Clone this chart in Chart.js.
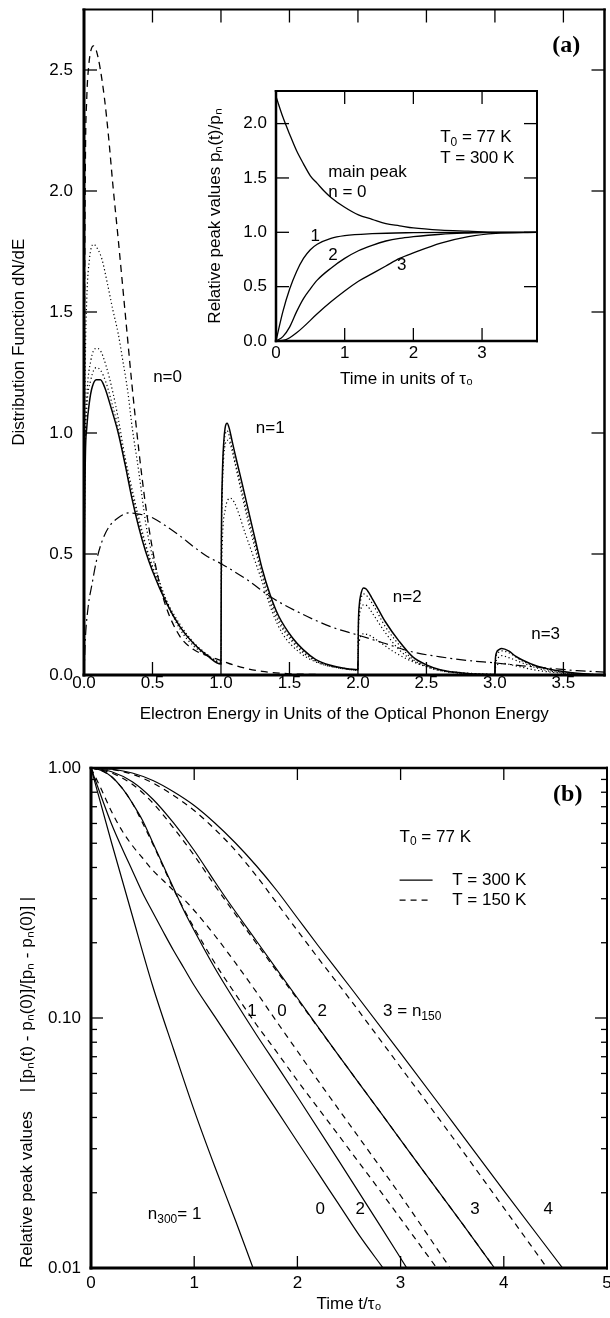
<!DOCTYPE html>
<html><head><meta charset="utf-8">
<script src="https://cdn.jsdelivr.net/npm/chart.js@4.4.1/dist/chart.umd.min.js"></script>
<style>
html,body{margin:0;padding:0;background:#fff;}
body{width:610px;height:1318px;position:relative;overflow:hidden;}
canvas{position:absolute;display:block;}
</style></head><body>
<canvas id="ca" width="610" height="725" style="left:0;top:0"></canvas>
<canvas id="ci" width="345" height="310" style="left:200px;top:85px"></canvas>
<canvas id="cb" width="610" height="593" style="left:0;top:725px"></canvas>
<script>
// ---------- Panel (a): distribution function ----------
const aXTicks = [0,0.5,1,1.5,2,2.5,3,3.5];
const aXLabels = ['0.0','0.5','1.0','1.5','2.0','2.5','3.0','3.5'];
const aYTicks = [0,0.5,1,1.5,2,2.5];
const aYLabels = ['0.0','0.5','1.0','1.5','2.0','2.5'];

const solidX = [0,0.003,0.01,0.02,0.04,0.06,0.09,0.12,0.15,0.2,0.25,0.3,0.35,0.4,0.45,0.5,0.6,0.7,0.8,0.9,1.0,
 1.003,1.01,1.02,1.03,1.045,1.06,1.08,1.1,1.155,1.2,1.25,1.3,1.36,1.42,1.52,1.6,1.69,1.8,1.9,2.0,
 2.003,2.01,2.02,2.04,2.06,2.1,2.15,2.2,2.3,2.4,2.5,2.6,2.7,2.8,2.9,3.0,
 3.003,3.01,3.03,3.05,3.1,3.15,3.2,3.3,3.4,3.5,3.6,3.7,3.8];
const solidY = [0,0.5,0.9,1.02,1.13,1.19,1.22,1.22,1.19,1.1,1.0,0.87,0.73,0.61,0.51,0.43,0.3,0.2,0.13,0.08,0.045,
 0.55,0.82,0.96,1.02,1.04,1.02,0.97,0.92,0.79,0.68,0.56,0.44,0.33,0.245,0.155,0.105,0.065,0.04,0.028,0.022,
 0.2,0.29,0.33,0.36,0.355,0.32,0.27,0.22,0.14,0.075,0.042,0.022,0.012,0.006,0.003,0.002,
 0.06,0.09,0.105,0.11,0.1,0.078,0.062,0.038,0.024,0.014,0.007,0.003,0.001];

const dashX = [0,0.003,0.01,0.02,0.035,0.05,0.07,0.09,0.12,0.15,0.18,0.21,0.25,0.3,0.35,0.4,0.45,0.5,0.55,0.6,0.7,0.8,0.9,1.0,1.1,1.2,1.3,1.4,1.5,1.7,2.0];
const dashY = [0,1.2,2.1,2.38,2.52,2.58,2.6,2.58,2.5,2.38,2.22,2.03,1.8,1.5,1.2,0.93,0.7,0.52,0.38,0.28,0.16,0.105,0.08,0.06,0.04,0.025,0.015,0.009,0.005,0.002,0];

const dotAX = [0,0.003,0.01,0.02,0.04,0.07,0.1,0.13,0.17,0.21,0.25,0.28,0.32,0.35,0.4,0.45,0.5,0.6,0.7,0.8,0.9,1.0,
 1.003,1.01,1.03,1.07,1.1,1.18,1.28,1.375,1.45,1.57,1.7,1.85,2.0,
 2.003,2.01,2.04,2.08,2.15,2.25,2.4,2.5,2.6,2.8,3.0,
 3.003,3.03,3.06,3.15,3.3,3.5,3.7,3.8];
const dotAY = [0,0.8,1.3,1.55,1.72,1.78,1.76,1.72,1.62,1.51,1.41,1.31,1.17,1.03,0.84,0.63,0.49,0.31,0.19,0.12,0.08,0.055,
 0.35,0.55,0.68,0.73,0.71,0.58,0.42,0.26,0.17,0.095,0.052,0.03,0.02,
 0.1,0.14,0.17,0.165,0.14,0.1,0.055,0.035,0.02,0.008,0.003,
 0.03,0.045,0.048,0.038,0.02,0.007,0.002,0.001];

const dotBX = [0,0.003,0.01,0.02,0.05,0.09,0.12,0.16,0.21,0.25,0.3,0.35,0.4,0.45,0.5,0.6,0.7,0.8,0.9,1.0,
 1.003,1.01,1.02,1.03,1.05,1.07,1.1,1.155,1.2,1.25,1.3,1.36,1.42,1.52,1.6,1.7,1.8,1.9,2.0,
 2.003,2.01,2.02,2.04,2.07,2.1,2.2,2.3,2.4,2.5,2.6,2.7,2.8,3.0,
 3.003,3.01,3.03,3.05,3.1,3.2,3.3,3.4,3.5,3.6,3.8];
const dotBY = [0,0.6,1.0,1.15,1.3,1.35,1.34,1.28,1.17,1.06,0.9,0.77,0.65,0.54,0.45,0.31,0.21,0.135,0.085,0.05,
 0.5,0.76,0.9,0.95,0.97,0.95,0.88,0.74,0.63,0.52,0.41,0.3,0.22,0.138,0.092,0.055,0.036,0.026,0.02,
 0.17,0.24,0.27,0.29,0.285,0.26,0.175,0.105,0.06,0.034,0.018,0.01,0.005,0.002,
 0.045,0.06,0.075,0.08,0.072,0.05,0.03,0.016,0.009,0.004,0.001];

const dotCX = [0,0.003,0.01,0.02,0.05,0.09,0.12,0.16,0.21,0.25,0.3,0.35,0.4,0.45,0.5,0.6,0.7,0.8,0.9,1.0,
 1.003,1.01,1.02,1.03,1.045,1.06,1.08,1.1,1.155,1.2,1.25,1.3,1.36,1.42,1.52,1.6,1.69,1.8,1.9,2.0,
 2.003,2.01,2.02,2.04,2.06,2.1,2.2,2.3,2.4,2.5,2.6,2.7,2.8,3.0,
 3.003,3.01,3.03,3.05,3.1,3.2,3.3,3.4,3.5,3.6,3.8];
const dotCY = [0,0.55,0.95,1.1,1.22,1.27,1.26,1.21,1.11,1.02,0.88,0.75,0.63,0.53,0.44,0.3,0.2,0.13,0.082,0.048,
 0.53,0.8,0.94,0.99,1.01,0.99,0.94,0.89,0.76,0.65,0.54,0.425,0.315,0.232,0.146,0.098,0.06,0.037,0.027,0.021,
 0.19,0.27,0.31,0.335,0.33,0.3,0.2,0.125,0.065,0.037,0.019,0.01,0.005,0.002,
 0.055,0.08,0.095,0.1,0.092,0.058,0.035,0.02,0.011,0.005,0.001];

const ddX = [0,0.01,0.03,0.06,0.09,0.13,0.18,0.25,0.33,0.4,0.5,0.6,0.7,0.8,0.9,1.0,1.2,1.37,1.6,1.8,2.0,2.2,2.4,2.6,2.8,3.0,3.2,3.4,3.6,3.8];
const ddY = [0,0.15,0.28,0.38,0.47,0.55,0.61,0.65,0.67,0.665,0.65,0.615,0.575,0.53,0.49,0.46,0.39,0.32,0.25,0.2,0.165,0.13,0.095,0.075,0.06,0.05,0.038,0.028,0.018,0.012];

// ---------- Inset: relative peak values ----------
const iXTicks = [0,1,2,3];
const iXLabels = ['0','1','2','3'];
const iYTicks = [0,0.5,1,1.5,2];
const iYLabels = ['0.0','0.5','1.0','1.5','2.0'];
const in0X = [0,0.1,0.2,0.3,0.4,0.5,0.6,0.7,0.8,1.0,1.2,1.4,1.6,1.8,2.0,2.4,2.8,3.2,3.8];
const in0Y = [2.25,2.06,1.9,1.75,1.63,1.52,1.45,1.38,1.32,1.23,1.16,1.12,1.08,1.06,1.04,1.02,1.01,1.0,1.0];
const in1X = [0,0.1,0.2,0.3,0.4,0.5,0.6,0.8,1.0,1.4,2.0,2.6,3.8];
const in1Y = [0,0.27,0.48,0.64,0.76,0.84,0.89,0.945,0.97,0.988,0.997,1.0,1.0];
const in2X = [0,0.1,0.2,0.3,0.4,0.5,0.6,0.8,1.0,1.2,1.4,1.6,1.8,2.0,2.4,2.8,3.2,3.8];
const in2Y = [0,0.04,0.13,0.27,0.39,0.48,0.56,0.67,0.76,0.83,0.88,0.92,0.945,0.96,0.982,0.993,1.0,1.0];
const in3X = [0,0.1,0.2,0.3,0.4,0.6,0.8,1.0,1.2,1.4,1.6,1.8,2.0,2.4,2.8,3.2,3.8];
const in3Y = [0,0.005,0.03,0.075,0.13,0.25,0.36,0.46,0.55,0.62,0.69,0.76,0.81,0.9,0.96,0.99,1.0];

// ---------- Panel (b): relative peak values, log scale ----------
const bXTicks = [0,1,2,3,4,5];
const bXLabels = ['0','1','2','3','4','5'];
const bYTicks = [0.01,0.1,1];
const bYLabels = ['0.01','0.10','1.00'];
const bYMinor = [0.02,0.03,0.04,0.05,0.06,0.07,0.08,0.09,0.2,0.3,0.4,0.5,0.6,0.7,0.8,0.9];
// T = 300 K (solid), n = 1, 0, 2, 3, 4
const s1T = [0,0.2,0.4,0.6,0.8,1.0,1.2,1.4,1.57];
const s1V = [1,0.5012,0.2570,0.1334,0.0750,0.0427,0.0254,0.0155,0.01];
const s0T = [0,0.1,0.2,0.3,0.4,0.5,0.6,0.7,0.8,0.9,1.0,1.2,1.4,1.6,1.8,2.0,2.2,2.4,2.6,2.83];
const s0V = [1,0.7674,0.5957,0.4786,0.3890,0.3162,0.2642,0.2213,0.1862,0.1585,0.1349,0.1012,0.0759,0.0569,0.0427,0.0320,0.0240,0.0180,0.0135,0.01];
const s2T = [0,0.1,0.2,0.3,0.4,0.5,0.6,0.7,0.8,0.9,1.0,1.2,1.4,1.6,1.8,2.0,2.4,2.8,3.06];
const s2V = [1,0.9772,0.9226,0.8318,0.7244,0.6166,0.5012,0.4074,0.3311,0.2692,0.2239,0.1585,0.1161,0.0861,0.0646,0.0484,0.0269,0.0148,0.01];
const s3T = [0,0.2,0.4,0.6,0.8,1.0,1.2,1.32,1.6,2.0,2.36,2.8,3.2,3.6,3.91];
const s3V = [1,0.9661,0.8810,0.7499,0.6026,0.4677,0.3508,0.2965,0.2042,0.1202,0.0745,0.0422,0.0251,0.0150,0.01];
const s4T = [0,0.2,0.4,0.6,0.8,1.0,1.2,1.4,1.6,1.8,2.0,2.2,2.5,3.0,3.5,4.0,4.57];
const s4V = [1,0.9886,0.9550,0.8913,0.8035,0.7079,0.6026,0.5012,0.4074,0.3236,0.2512,0.1950,0.1349,0.0724,0.0385,0.0204,0.01];
// T = 150 K (dashed), n = 1, 0, 2, 3
const d1T = [0,0.1,0.2,0.3,0.4,0.5,0.6,0.7,0.8,0.9,1.0,1.2,1.4,1.6,1.785,2.0,2.4,2.8,3.35];
const d1V = [1,0.9772,0.9226,0.8318,0.7244,0.6026,0.4955,0.4027,0.3273,0.2723,0.2291,0.1660,0.1245,0.0944,0.0745,0.0562,0.0339,0.0204,0.01];
const d0T = [0,0.1,0.2,0.3,0.4,0.5,0.6,0.7,0.8,0.9,1.0,1.2,1.4,1.6,1.8,1.945,2.2,2.6,3.0,3.48];
const d0V = [1,0.8222,0.6683,0.5623,0.4898,0.4365,0.3890,0.3548,0.3236,0.2985,0.2692,0.2138,0.1660,0.1274,0.0966,0.0794,0.0562,0.0331,0.0195,0.01];
const d2T = [0,0.2,0.4,0.6,0.8,1.0,1.2,1.32,1.6,2.0,2.36,2.8,3.2,3.6,3.91];
const d2V = [1,0.9550,0.8610,0.7244,0.5754,0.4467,0.3388,0.2884,0.1995,0.1189,0.0745,0.0422,0.0251,0.0150,0.01];
const d3T = [0,0.2,0.4,0.6,0.8,1.0,1.2,1.4,1.6,1.8,2.0,2.2,2.5,2.875,3.5,4.0,4.42];
const d3V = [1,0.9863,0.9441,0.8710,0.7762,0.6761,0.5689,0.4677,0.3715,0.2884,0.2239,0.1738,0.1202,0.0745,0.0335,0.0174,0.01];

// ---------- text annotations (data coordinates) ----------
const aNotes = [
  {x:0.61,y:1.23,t:[['n=0']],al:'center'},
  {x:1.36,y:1.02,t:[['n=1']],al:'center'},
  {x:2.36,y:0.32,t:[['n=2']],al:'center'},
  {x:3.37,y:0.17,t:[['n=3']],al:'center'},
  {x:3.52,y:2.60,t:[['(a)']],al:'center',serif:true}
];
const iNotes = [
  {x:2.39,y:1.87,t:[['T'],['0',1],[' = 77 K']],al:'left'},
  {x:2.39,y:1.68,t:[['T = 300 K']],al:'left'},
  {x:0.76,y:1.55,t:[['main peak']],al:'left'},
  {x:0.76,y:1.37,t:[['n = 0']],al:'left'},
  {x:0.57,y:0.96,t:[['1']],al:'center'},
  {x:0.83,y:0.79,t:[['2']],al:'center'},
  {x:1.83,y:0.70,t:[['3']],al:'center'}
];
const bNotes = [
  {x:4.62,y:0.78,t:[['(b)']],al:'center',serif:true},
  {x:2.99,y:0.53,t:[['T'],['0',1],[' = 77 K']],al:'left'},
  {x:3.50,y:0.356,t:[['T = 300 K']],al:'left'},
  {x:3.50,y:0.296,t:[['T = 150 K']],al:'left'},
  {x:1.56,y:0.106,t:[['1']],al:'center'},
  {x:1.85,y:0.106,t:[['0']],al:'center'},
  {x:2.24,y:0.106,t:[['2']],al:'center'},
  {x:2.83,y:0.106,t:[['3 = n'],['150',1]],al:'left'},
  {x:0.55,y:0.0164,t:[['n'],['300',1],['= 1']],al:'left'},
  {x:2.22,y:0.0171,t:[['0']],al:'center'},
  {x:2.61,y:0.0171,t:[['2']],al:'center'},
  {x:3.72,y:0.0171,t:[['3']],al:'center'},
  {x:4.43,y:0.0171,t:[['4']],al:'center'}
];
const bLegend = [
  {x1:2.99,x2:3.31,y:0.356,dash:[]},
  {x1:2.99,x2:3.31,y:0.296,dash:[6,5]}
];

// ---------- helpers ----------
const FAM = '"Liberation Sans", Arial, Helvetica, sans-serif';
Chart.defaults.font.family = FAM;
Chart.defaults.font.size = 17;
Chart.defaults.color = '#000';

const pts = (xs, ys) => xs.map((x, i) => ({x, y: ys[i]}));
const line = (xs, ys, dash, w) => ({data: pts(xs, ys), borderColor: '#000', borderWidth: w || 1.3,
  borderDash: dash || [], pointRadius: 0, fill: false, cubicInterpolationMode: 'monotone'});

function drawRich(ctx, x, y, segs, al, serif) {
  const size = serif ? 24 : 17;
  const parts = segs.map(s => {
    const sub = !!s[1];
    const f = serif ? 'bold ' + size + 'px "Liberation Serif", "Times New Roman", serif'
                    : (sub ? 12 : size) + 'px ' + FAM;
    ctx.font = f;
    return {t: s[0], sub, f, w: ctx.measureText(s[0]).width};
  });
  const tot = parts.reduce((a, p) => a + p.w, 0);
  let cx = al === 'center' ? x - tot / 2 : x;
  ctx.textAlign = 'left'; ctx.textBaseline = 'middle'; ctx.fillStyle = '#000';
  parts.forEach(p => { ctx.font = p.f; ctx.fillText(p.t, cx, y + (p.sub ? 5 : 0)); cx += p.w; });
}

function framePlugin(o) {
  return {id: 'frame', afterDatasetsDraw(chart) {
    const c = chart.ctx, a = chart.chartArea, X = chart.scales.x, Y = chart.scales.y;
    c.save(); c.strokeStyle = '#000'; c.lineCap = 'butt'; c.setLineDash([]);
    const L = (x1, y1, x2, y2, w) => { c.lineWidth = w; c.beginPath(); c.moveTo(x1, y1); c.lineTo(x2, y2); c.stroke(); };
    o.xt.forEach(v => { const p = X.getPixelForValue(v);
      L(p, a.bottom, p, a.bottom - o.len, o.tw); L(p, a.top, p, a.top + o.len, o.tw); });
    o.yt.forEach(v => { const p = Y.getPixelForValue(v);
      L(a.left, p, a.left + o.len, p, o.tw); L(a.right, p, a.right - o.len, p, o.tw); });
    (o.ym || []).forEach(v => { const p = Y.getPixelForValue(v);
      L(a.left, p, a.left + o.mlen, p, o.tw); L(a.right, p, a.right - o.mlen, p, o.tw); });
    const b = o.bw; // left, bottom, top, right
    L(a.left, a.top - b[2] / 2, a.left, a.bottom + b[1] / 2, b[0]);
    L(a.left - b[0] / 2, a.bottom, a.right + b[3] / 2, a.bottom, b[1]);
    L(a.left - b[0] / 2, a.top, a.right + b[3] / 2, a.top, b[2]);
    L(a.right, a.top - b[2] / 2, a.right, a.bottom + b[1] / 2, b[3]);
    (o.legend || []).forEach(l => { c.setLineDash(l.dash); const yy = Y.getPixelForValue(l.y);
      L(X.getPixelForValue(l.x1), yy, X.getPixelForValue(l.x2), yy, 1.3); });
    c.setLineDash([]);
    (o.notes || []).forEach(n => drawRich(c, X.getPixelForValue(n.x), Y.getPixelForValue(n.y), n.t, n.al, n.serif));
    c.restore();
  }};
}

function axes(o) {
  return {
    x: {type: 'linear', min: o.xmin, max: o.xmax,
      afterBuildTicks: s => { s.ticks = o.xt.map(v => ({value: v})); },
      afterFit: s => { s.height = o.xh; s.paddingLeft = 0; s.paddingRight = 0; },
      grid: {display: false, drawTicks: false}, border: {display: false},
      ticks: {autoSkip: false, maxRotation: 0, padding: o.xpad, callback: (v, i) => o.xl[i]},
      title: {display: true, text: o.xtitle, padding: {top: 0, bottom: o.xtpad}, font: {size: 17}}},
    y: {type: o.ytype || 'linear', min: o.ymin, max: o.ymax,
      afterBuildTicks: s => { s.ticks = o.yt.map(v => ({value: v})); },
      afterFit: s => { s.width = o.yw; s.paddingTop = 0; s.paddingBottom = 0; },
      grid: {display: false, drawTicks: false}, border: {display: false},
      ticks: {autoSkip: false, padding: o.ypad, callback: (v, i) => o.yl[i]},
      title: {display: true, text: o.ytitle, align: o.yalign || 'center', padding: {top: o.ytpad, bottom: 0}, font: {size: 17}}}
  };
}

const common = {responsive: false, animation: false, devicePixelRatio: 1,
  plugins: {legend: {display: false}, tooltip: {enabled: false}}, events: []};

// ---------- Panel (a) ----------
new Chart(document.getElementById('ca'), {
  type: 'line',
  data: {datasets: [
    line(ddX, ddY, [10, 4, 2, 4], 1.2),
    line(dashX, dashY, [7, 5], 1.3),
    line(dotAX, dotAY, [1.2, 2.6], 1.2),
    line(dotBX, dotBY, [1.2, 2.6], 1.2),
    line(dotCX, dotCY, [1.2, 2.6], 1.2),
    line(solidX, solidY, [], 1.5)
  ]},
  options: Object.assign({}, common, {
    layout: {autoPadding: false, padding: {left: 0, top: 9.5, right: 5.5, bottom: 0}},
    scales: axes({xmin: 0, xmax: 3.8, xt: aXTicks, xl: aXLabels, xh: 50, xpad: -2,
      xtitle: 'Electron Energy in Units of the Optical Phonon Energy', xtpad: 0,
      ymin: 0, ymax: 2.75, yt: aYTicks, yl: aYLabels, yw: 84, ypad: 11,
      ytitle: 'Distribution Function dN/dE', ytpad: 9})
  }),
  plugins: [framePlugin({xt: aXTicks.slice(1), yt: aYTicks.slice(1), len: 13, tw: 1.3, bw: [3, 3, 2, 2.5], notes: aNotes})]
});

// ---------- Inset ----------
new Chart(document.getElementById('ci'), {
  type: 'line',
  data: {datasets: [
    line(in0X, in0Y, [], 1.3), line(in1X, in1Y, [], 1.3), line(in2X, in2Y, [], 1.3), line(in3X, in3Y, [], 1.3)
  ]},
  options: Object.assign({}, common, {
    layout: {autoPadding: false, padding: {left: 0, top: 6, right: 8, bottom: 0}},
    scales: axes({xmin: 0, xmax: 3.8, xt: iXTicks, xl: iXLabels, xh: 54, xpad: 2,
      xtitle: 'Time in units of \u03c4\u2080', xtpad: 5,
      ymin: 0, ymax: 2.3, yt: iYTicks, yl: iYLabels, yw: 76, ypad: 9,
      ytitle: 'Relative peak values p\u2099(t)/p\u2099', ytpad: 5})
  }),
  plugins: [framePlugin({xt: iXTicks.slice(1), yt: iYTicks.slice(1), len: 13, tw: 1.3, bw: [2.5, 2.5, 2, 2], notes: iNotes})]
});

// ---------- Panel (b) ----------
new Chart(document.getElementById('cb'), {
  type: 'line',
  data: {datasets: [
    line(s1T, s1V, [], 1.2), line(s0T, s0V, [], 1.2), line(s2T, s2V, [], 1.2), line(s3T, s3V, [], 1.2), line(s4T, s4V, [], 1.2),
    line(d1T, d1V, [6, 5], 1.2), line(d0T, d0V, [6, 5], 1.2), line(d2T, d2V, [6, 5], 1.2), line(d3T, d3V, [6, 5], 1.2)
  ]},
  options: Object.assign({}, common, {
    layout: {autoPadding: false, padding: {left: 0, top: 43, right: 3, bottom: 0}},
    scales: axes({xmin: 0, xmax: 5, xt: bXTicks, xl: bXLabels, xh: 50, xpad: 5,
      xtitle: 'Time t/\u03c4\u2080', xtpad: 3,
      ytype: 'logarithmic', ymin: 0.01, ymax: 1, yt: bYTicks, yl: bYLabels, yw: 91, ypad: 10,
      ytitle: 'Relative peak values    | [p\u2099(t) - p\u2099(0)]/[p\u2099 - p\u2099(0)] |', ytpad: 17, yalign: 'start'})
  }),
  plugins: [framePlugin({xt: [1, 2, 3, 4], yt: [0.1], ym: bYMinor, len: 12, mlen: 6, tw: 1.3, bw: [3, 3, 2.5, 2],
    notes: bNotes, legend: bLegend})]
});
</script>
</body></html>
